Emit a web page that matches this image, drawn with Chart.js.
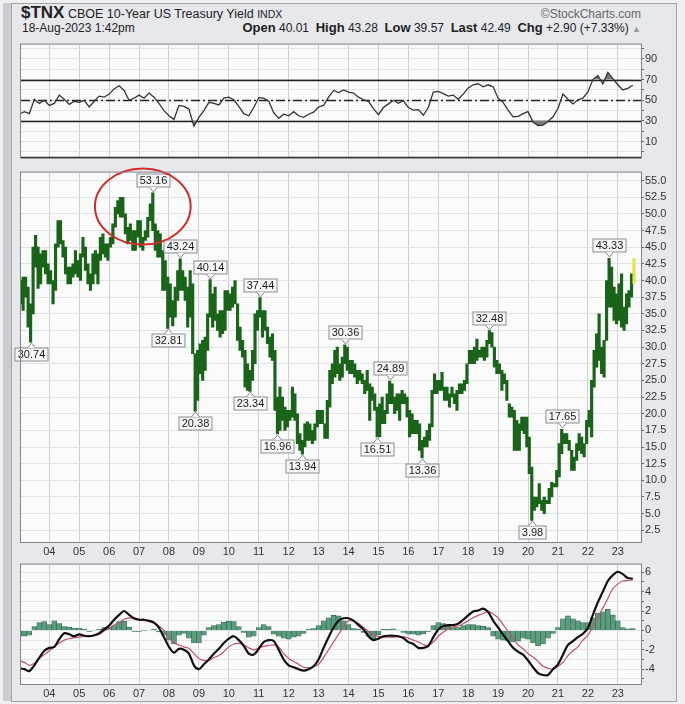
<!DOCTYPE html>
<html>
<head>
<meta charset="utf-8">
<script src="https://cdn.jsdelivr.net/npm/chart.js@4.4.0/dist/chart.umd.min.js"></script>
<style>
  body { margin: 0; width: 685px; height: 704px; background: #eef0f2; font-family: "Liberation Sans", Arial, sans-serif; position: relative; overflow: hidden; }
  #strip { position: absolute; left: 3px; top: 3px; width: 8px; height: 698px; background: #c9cdd2; }
  #frame { position: absolute; left: 11px; top: 3px; width: 664px; height: 697px; background: #e6e8eb; border: 1px solid #9ea3a9; }
  .pane { position: absolute; left: 0; }
  .txt { position: absolute; color: #222; white-space: nowrap; }
</style>
</head>
<body>
<div id="strip"></div>
<div id="frame"></div>
<div class="txt" style="left:21px;top:3px;font-size:12.5px"><b style="font-size:17px">$TNX</b> CBOE 10-Year US Treasury Yield <span style="font-size:10.5px">INDX</span></div>
<div class="txt" style="right:44px;top:7px;font-size:12px;color:#666">&copy;StockCharts.com</div>
<div class="txt" style="left:22px;top:21px;font-size:12px">18-Aug-2023 1:42pm</div>
<div class="txt" style="right:44px;top:20px;font-size:12px"><b style="font-size:13px">Open</b> 40.01 &nbsp;<b style="font-size:13px">High</b> 43.28 &nbsp;<b style="font-size:13px">Low</b> 39.57 &nbsp;<b style="font-size:13px">Last</b> 42.49 &nbsp;<b style="font-size:13px">Chg</b> +2.90 (+7.33%) <span style="color:#999;font-size:9px">&#9650;</span></div>

<div class="pane" style="top:37px"><canvas id="rsiChart" width="685" height="128"></canvas></div>
<div class="pane" style="top:165px"><canvas id="priceChart" width="685" height="392"></canvas></div>
<div class="pane" style="top:557px"><canvas id="macdChart" width="685" height="142"></canvas></div>

<script>
// x axis = months since Jan 2003
const yearLabels = ["04", "05", "06", "07", "08", "09", "10", "11", "12", "13", "14", "15", "16", "17", "18", "19", "20", "21", "22", "23"];

// monthly ranges, Feb 2003 .. Aug 2023 (yield x 10)
const priceLows = [
  36.5, 35.5, 37.5, 33.0, 30.74, 35.0, 42.0, 38.8, 39.5, 42.0, 41.0,
  39.5, 39.5, 36.5, 38.5, 45.0, 45.5, 43.5, 41.0, 39.5, 39.5, 40.5, 41.0,
  40.5, 40.0, 43.5, 41.5, 39.5, 38.5, 39.5, 41.0, 39.5, 43.0, 44.0, 43.5,
  43.0, 45.0, 45.5, 48.0, 50.0, 49.5, 49.5, 47.0, 45.5, 46.0, 44.5, 44.5,
  46.5, 45.0, 44.5, 46.0, 46.5, 49.0, 47.5, 44.5, 43.5, 43.5, 38.5, 38.5,
  32.81, 34.5, 33.2, 34.5, 37.0, 38.5, 38.5, 37.0, 33.0, 34.5, 29.0, 20.38,
  22.0, 26.0, 25.0, 26.5, 29.5, 34.5, 33.0, 34.0, 32.5, 31.5, 32.0, 32.5,
  35.5, 35.5, 36.0, 36.5, 31.0, 29.5, 28.5, 24.0, 23.5, 23.34, 25.0, 27.5,
  32.5, 34.5, 31.5, 32.5, 30.5, 28.5, 28.0, 20.5, 16.96, 17.5, 19.0, 17.5,
  18.0, 19.0, 19.5, 19.0, 15.5, 14.5, 13.94, 15.0, 16.0, 16.0, 15.5, 16.0,
  18.0, 18.5, 18.5, 16.3, 16.3, 21.0, 24.5, 25.5, 26.0, 25.0, 25.5, 27.5,
  26.5, 26.0, 26.0, 25.5, 24.5, 25.0, 24.5, 23.0, 23.5, 19.0, 22.0, 20.5,
  16.51, 16.5, 18.5, 18.5, 20.0, 21.5, 21.5, 20.0, 20.5, 19.0, 21.5, 21.5,
  19.5, 16.5, 17.0, 17.0, 17.0, 14.5, 13.36, 15.0, 15.0, 16.0, 18.0, 23.0,
  23.0, 23.5, 23.5, 22.0, 22.0, 21.0, 22.5, 21.5, 20.5, 23.0, 23.0, 23.5,
  24.5, 27.5, 27.5, 27.5, 28.0, 28.5, 28.5, 28.0, 28.5, 30.5, 30.0, 27.0,
  26.0, 26.0, 23.5, 24.5, 22.0, 19.5, 19.5, 14.5, 14.5, 14.5, 17.5, 17.0,
  15.0, 11.0, 3.98, 5.5, 6.0, 6.5, 5.5, 5.0, 6.5, 6.5, 7.5, 9.0,
  9.0, 10.5, 14.0, 15.5, 15.5, 14.5, 11.5, 11.5, 13.0, 14.5, 14.0, 13.5,
  15.5, 18.0, 16.5, 24.0, 27.0, 28.0, 26.0, 25.5, 31.0, 36.0, 36.0, 34.0,
  33.5, 34.0, 33.0, 32.5, 33.5, 36.0, 37.5, 39.57,
];
const priceHighs = [
  40.0, 40.5, 40.5, 39.0, 36.5, 45.0, 46.8, 45.0, 44.0, 44.5, 44.5,
  42.5, 41.5, 40.0, 45.5, 49.0, 49.0, 46.0, 45.0, 42.0, 42.0, 42.5, 44.5,
  43.0, 44.0, 46.5, 45.0, 42.5, 41.0, 44.0, 44.5, 44.0, 46.5, 47.0, 45.5,
  45.5, 46.5, 48.5, 51.0, 52.0, 52.5, 52.5, 50.0, 48.0, 48.5, 47.5, 47.5,
  49.0, 49.0, 46.5, 47.5, 49.5, 51.5, 53.16, 48.5, 47.5, 47.0, 44.5, 43.0,
  40.5, 39.5, 37.0, 39.0, 41.5, 43.24, 41.5, 40.5, 39.0, 41.5, 39.5, 29.0,
  29.5, 30.5, 31.0, 31.5, 35.0, 40.14, 38.0, 39.0, 35.0, 35.5, 35.5, 38.5,
  38.5, 38.0, 39.0, 40.0, 36.5, 33.0, 31.0, 29.5, 27.5, 26.5, 29.5, 35.0,
  35.5, 37.44, 35.5, 35.5, 33.0, 31.5, 32.0, 29.5, 22.5, 24.0, 22.5, 21.0,
  20.5, 20.5, 24.0, 23.0, 20.0, 17.0, 16.0, 18.5, 18.8, 18.5, 17.5, 18.5,
  20.5, 20.5, 20.5, 18.5, 22.0, 26.5, 27.5, 29.5, 30.0, 27.5, 28.5, 30.36,
  30.0, 28.0, 28.0, 27.5, 26.5, 26.5, 26.0, 25.0, 26.5, 24.5, 24.0, 23.0,
  21.0, 21.5, 22.5, 20.5, 23.0, 24.89, 24.5, 22.5, 23.0, 23.0, 23.5, 23.0,
  22.5, 20.5, 20.0, 19.0, 19.0, 18.5, 16.0, 16.5, 17.5, 18.5, 23.5, 26.0,
  25.0, 25.0, 26.2, 24.0, 24.0, 23.0, 24.0, 23.0, 23.5, 24.5, 24.5, 25.0,
  27.5, 29.5, 29.5, 30.0, 31.2, 29.5, 30.0, 30.0, 31.0, 32.48, 32.2, 30.0,
  28.0, 27.5, 26.5, 26.0, 25.0, 21.5, 21.0, 20.5, 19.0, 18.5, 19.5, 19.5,
  19.5, 16.5, 12.0, 7.5, 7.5, 9.5, 7.0, 7.5, 7.0, 8.8, 9.7, 9.5,
  11.5, 15.5, 17.65, 17.0, 17.0, 16.0, 14.5, 13.5, 15.5, 17.0, 16.5, 15.5,
  19.0, 20.5, 25.0, 29.5, 32.0, 35.0, 30.0, 31.0, 40.0, 43.33, 42.0, 39.0,
  38.0, 39.5, 41.0, 36.0, 38.0, 38.5, 41.0, 43.28,
];

// labelled highs and lows: index into the price arrays
const markIndex = [4, 53, 59, 64, 70, 76, 92, 96, 103, 113, 130, 143, 148, 161, 188, 205, 217, 236];
const markValue = [30.74, 53.16, 32.81, 43.24, 20.38, 40.14, 23.34, 37.44, 16.96, 13.94, 30.36, 16.51, 24.89, 13.36, 32.48, 3.98, 17.65, 43.33];
const markHigh = [false, true, false, true, false, true, false, true, false, false, true, false, true, false, true, false, true, true];

// indicators sampled every 2 months from Jan 2003
const rsiValues = [
  36.5, 39, 37, 51, 47, 50, 45, 47, 55, 51, 46, 49, 48, 50, 43.5, 49, 54, 53, 56, 61, 64, 59.5, 50, 52, 55,
  52, 57, 53, 47, 40, 35, 31.5, 45, 44, 41.5, 25, 33.5, 40, 48, 47, 45.5, 52, 53, 50.5, 44, 37, 35, 43, 52.5,
  52, 49, 38, 32.5, 36.5, 35, 39, 35, 33.5, 36.5, 38.5, 43.5, 45, 53, 59.5, 57.5, 60, 58, 57, 53, 50.5, 49,
  42, 36, 43, 46.5, 50, 47, 49.5, 43, 40.5, 41, 35.5, 43, 58, 58.5, 56.5, 54, 55, 51, 56, 62, 65, 66, 63, 65,
  63, 52, 48, 40.5, 34, 34.5, 37, 39, 29, 25.5, 26, 29.5, 34, 42, 56, 51, 46.5, 50.5, 52, 58, 70, 74, 66, 77,
  71, 65, 60, 61.5, 64.5,
];
const macdLine = [
  -3.9, -4.0, -4.2, -3.6, -2.8, -2.1, -1.8, -1.7, -0.9, -0.3, -0.4, -0.6, -0.4, -0.55, -0.6, -0.5, -0.3, 0.1,
  0.5, 1.1, 1.6, 2.0, 1.6, 1.25, 1.1, 1.1, 1.0, 0.8, 0.25, -0.7, -1.7, -2.3, -1.9, -2.0, -2.4, -3.6, -4.0,
  -3.5, -3.0, -2.4, -1.9, -1.3, -0.85, -0.6, -1.0, -1.6, -2.4, -2.5, -1.9, -1.2, -1.0, -1.1, -2.0, -3.0,
  -3.6, -3.8, -4.0, -4.15, -4.0, -3.7, -3.0, -1.8, -0.7, 0.3, 1.0, 1.25, 1.25, 1.0, 0.55, 0.1, -0.6, -1.0,
  -0.85, -0.6, -0.55, -0.55, -0.6, -0.8, -1.2, -1.4, -1.8, -1.8, -1.6, -0.7, 0.1, 0.45, 0.55, 0.55, 0.7, 1.1,
  1.55, 1.95, 2.05, 2.25, 1.9, 1.0, 0.3, -0.45, -1.1, -1.8, -2.2, -2.5, -3.1, -3.8, -4.4, -4.6, -4.6, -4.0,
  -3.5, -2.5, -1.5, -1.1, -0.7, -0.35, 0.25, 1.6, 2.9, 4.0, 5.1, 5.7, 6.05, 5.8, 5.4, 5.35,
];
const macdSignal = [
  -3.1, -3.3, -3.6, -3.4, -2.9, -2.5, -2.1, -1.7, -1.3, -1.0, -0.85, -0.75, -0.7, -0.6, -0.55, -0.55, -0.4,
  -0.05, 0.2, 0.55, 0.8, 1.15, 1.3, 1.2, 1.15, 1.0, 0.9, 0.75, 0.45, 0.0, -0.7, -1.3, -1.5, -1.7, -1.85, -2.4,
  -2.9, -3.1, -3.1, -2.8, -2.6, -2.2, -1.7, -1.4, -1.35, -1.5, -1.8, -2.0, -1.8, -1.65, -1.55, -1.5, -1.7,
  -2.4, -2.9, -3.2, -3.5, -3.8, -3.85, -3.75, -3.5, -2.8, -2.0, -1.2, -0.4, 0.4, 1.0, 0.95, 0.7, 0.3, -0.1,
  -0.45, -0.65, -0.7, -0.7, -0.7, -0.65, -0.65, -0.8, -1.0, -1.2, -1.45, -1.55, -1.2, -0.6, -0.2, 0.2, 0.35,
  0.45, 0.7, 1.0, 1.3, 1.55, 1.75, 1.95, 1.7, 1.3, 0.6, -0.1, -0.8, -1.5, -1.9, -2.4, -2.75, -3.2, -3.7, -3.9,
  -4.0, -3.7, -3.3, -2.6, -2.1, -1.7, -1.0, -0.5, 0.4, 1.4, 2.3, 3.3, 4.3, 4.8, 5.1, 5.15, 5.2,
];
const macdHist = [
  -0.6, -0.6, -0.5, 0.4, 0.8, 0.9, 0.6, 1.0, 0.7, 0.4, 0.35, 0.25, 0.25, 0.1, -0.1, 0.05, 0.1, 0.3, 0.35, 0.5,
  0.9, 0.95, 0.35, -0.1, -0.1, -0.05, 0.0, 0.1, -0.15, -0.5, -1.0, -1.4, -0.5, -0.3, -0.8, -1.3, -1.3, -0.5,
  0.3, 0.5, 0.6, 0.85, 0.95, 0.9, 0.4, -0.2, -0.7, -0.6, 0.3, 0.6, 0.4, -0.4, -0.6, -0.8, -0.9, -0.7, -0.6,
  -0.3, 0.1, 0.2, 0.5, 1.0, 1.3, 1.55, 1.5, 1.0, 0.6, 0.2, 0.1, -0.2, -0.6, -0.9, -0.45, 0.1, 0.1, 0.15, 0.05,
  -0.2, -0.4, -0.4, -0.5, -0.35, -0.1, 0.5, 0.8, 0.7, 0.45, 0.3, 0.3, 0.5, 0.6, 0.6, 0.5, 0.45, 0.3, -0.6,
  -0.9, -1.0, -1.1, -1.2, -1.1, -0.8, -0.9, -1.3, -1.6, -1.4, -0.8, -0.3, 0.3, 1.2, 1.5, 1.2, 1.0, 0.8, 0.8,
  1.3, 1.8, 1.9, 2.2, 1.6, 1.0, 0.3, 0.15, 0.2,
];

const rsiLabels = [10, 30, 50, 70, 90];
const priceLabels = [2.5, 5, 7.5, 10, 12.5, 15, 17.5, 20, 22.5, 25, 27.5, 30, 32.5, 35, 37.5, 40, 42.5, 45, 47.5, 50, 52.5, 55];
const macdLabels = [-4, -2, 0, 2, 4, 6];

const xMin = 0.65;
const xMax = 249.3;

function xAxis(showLabels) {
  return {
    type: 'linear',
    min: xMin,
    max: xMax,
    offset: false,
    afterBuildTicks: (s) => { s.ticks = yearLabels.map((l, i) => ({ value: (i + 1) * 12 })); },
    afterFit: (s) => { s.height = showLabels ? 15 : 0; },
    grid: { color: '#cdd0d4', drawTicks: false, offset: false },
    border: { display: false },
    ticks: {
      display: showLabels,
      padding: 3,
      maxRotation: 0,
      autoSkip: false,
      color: '#333',
      font: { family: 'Liberation Sans', size: 11 },
      callback: (v) => yearLabels[Math.round(v / 12) - 1],
    },
  };
}

function yAxis(min, max, gridValues, labels, fmt) {
  return {
    position: 'right',
    min: min,
    max: max,
    afterBuildTicks: (s) => { s.ticks = gridValues.map(v => ({ value: v })); },
    afterFit: (s) => { s.width = 35; },
    grid: { color: '#e1e3e6', tickLength: 3, tickColor: '#666' },
    border: { display: false },
    ticks: {
      padding: 1,
      autoSkip: false,
      color: '#333',
      font: { family: 'Liberation Sans', size: 11 },
      callback: (v) => labels.includes(v) ? fmt(v) : '',
    },
  };
}

const panelPlugin = {
  id: 'panel',
  beforeDraw(chart) {
    const a = chart.chartArea;
    chart.ctx.save();
    chart.ctx.fillStyle = '#fbfbfc';
    chart.ctx.fillRect(a.left, a.top, a.right - a.left, a.bottom - a.top);
    chart.ctx.restore();
  },
  afterDraw(chart) {
    const a = chart.chartArea;
    chart.ctx.save();
    chart.ctx.strokeStyle = '#80848a';
    chart.ctx.lineWidth = 1;
    chart.ctx.strokeRect(a.left - 0.5, a.top - 0.5, a.right - a.left + 1, a.bottom - a.top + 1);
    chart.ctx.restore();
  },
};

const padding = { left: 21, right: 9, top: 0, bottom: 0 };

// RSI panel
const rsiLevels = {
  id: 'rsiLevels',
  beforeDatasetsDraw(chart) {
    const c = chart.ctx, a = chart.chartArea, y = chart.scales.y;
    c.save();
    c.strokeStyle = '#222';
    c.lineWidth = 1.3;
    [70, 30].forEach(v => {
      const py = Math.round(y.getPixelForValue(v)) + 0.5;
      c.beginPath(); c.moveTo(a.left, py); c.lineTo(a.right, py); c.stroke();
    });
    c.setLineDash([9, 3, 2, 3]);
    const py = Math.round(y.getPixelForValue(50)) + 0.5;
    c.beginPath(); c.moveTo(a.left, py); c.lineTo(a.right, py); c.stroke();
    c.restore();
  },
  afterDraw(chart) {
    const c = chart.ctx, a = chart.chartArea;
    c.save();
    c.strokeStyle = '#333';
    c.lineWidth = 1.5;
    c.beginPath(); c.moveTo(a.left, a.bottom); c.lineTo(a.right, a.bottom); c.stroke();
    c.restore();
  },
};

const rsiPoints = rsiValues.map((v, i) => ({ x: i * 2, y: v }));
const rsiGrid = [0, 10, 20, 30, 40, 50, 60, 70, 80, 90, 100];

let rtx = document.getElementById('rsiChart').getContext('2d');
let rsiChart = new Chart(rtx, {
  type: 'line',
  data: {
    datasets: [{
      data: rsiPoints,
      borderColor: '#333',
      borderWidth: 1.3,
      pointRadius: 0,
      tension: 0,
      fill: { target: { value: 30 }, above: 'rgba(0,0,0,0)', below: '#7a7a7a' },
    }, {
      data: rsiPoints,
      borderWidth: 0,
      pointRadius: 0,
      tension: 0,
      fill: { target: { value: 70 }, above: '#7a7a7a', below: 'rgba(0,0,0,0)' },
    }]
  },
  options: {
    responsive: false,
    animation: false,
    layout: { padding: padding },
    plugins: { legend: { display: false }, tooltip: { enabled: false } },
    scales: {
      x: xAxis(false),
      y: yAxis(-5.3, 103.9, rsiGrid, rsiLabels, v => String(v)),
    }
  },
  plugins: [panelPlugin, rsiLevels],
});

// price panel
const priceBars = priceLows.map((lo, k) => ({ x: k + 0.5, y: [lo, priceHighs[k]] }));

const markPlugin = {
  id: 'marks',
  afterDatasetsDraw(chart) {
    const c = chart.ctx, xs = chart.scales.x, ys = chart.scales.y;
    c.save();
    c.font = '11px "Liberation Sans", Arial, sans-serif';
    c.textAlign = 'center';
    c.textBaseline = 'middle';
    markIndex.forEach((k, i) => {
      const px = Math.round(xs.getPixelForValue(k + 0.5)) + 0.5;
      const py = Math.round(ys.getPixelForValue(markValue[i]));
      const txt = markValue[i].toFixed(2);
      const w = Math.ceil(c.measureText(txt).width) + 5;
      const h = 13;
      const dir = markHigh[i] ? -1 : 1;
      const tip = py + dir * 1;
      const base = py + dir * 6;
      const top = markHigh[i] ? base - h : base;
      c.fillStyle = '#f7f7f7';
      c.fillRect(px - w / 2, top, w, h);
      c.strokeStyle = '#8a8d92';
      c.lineWidth = 1;
      c.strokeRect(px - w / 2, top, w, h);
      c.beginPath();
      c.moveTo(px - 4, base); c.lineTo(px, tip); c.lineTo(px + 4, base);
      c.fillStyle = '#f7f7f7';
      c.fill();
      c.stroke();
      c.fillStyle = '#1a1a1a';
      c.fillText(txt, px, top + h / 2 + 0.5);
    });
    // circle around the 2006-07 top
    const cx = xs.getPixelForValue(49.5), cy = ys.getPixelForValue(51.1);
    const rx = Math.abs(xs.getPixelForValue(49.5 + 19.2) - cx);
    const ry = Math.abs(ys.getPixelForValue(51.1 + 5.7) - cy);
    c.strokeStyle = '#d42a2a';
    c.lineWidth = 2;
    c.beginPath();
    c.ellipse(cx, cy, rx, ry, 0, 0, Math.PI * 2);
    c.stroke();
    c.restore();
  },
};

const priceGrid = priceLabels.slice();

let ptx = document.getElementById('priceChart').getContext('2d');
let priceChart = new Chart(ptx, {
  type: 'bar',
  data: {
    datasets: [{
      data: priceBars,
      backgroundColor: (ctx) => ctx.dataIndex === priceLows.length - 1 ? '#e4e448' : '#196419',
      borderWidth: 0,
      barPercentage: 1,
      categoryPercentage: 1,
    }]
  },
  options: {
    responsive: false,
    animation: false,
    layout: { padding: padding },
    plugins: { legend: { display: false }, tooltip: { enabled: false } },
    scales: {
      x: xAxis(true),
      y: yAxis(0.74, 56.2, priceGrid, priceLabels, v => v.toFixed(1)),
    }
  },
  plugins: [panelPlugin, markPlugin],
});

// MACD panel
const macdPoints = macdLine.map((v, i) => ({ x: i * 2, y: v }));
const signalPoints = macdSignal.map((v, i) => ({ x: i * 2, y: v }));
const histPoints = macdHist.map((v, i) => ({ x: i * 2, y: v }));
const macdGrid = [-5, -4, -3, -2, -1, 0, 1, 2, 3, 4, 5, 6];

let mtx = document.getElementById('macdChart').getContext('2d');
let macdChart = new Chart(mtx, {
  type: 'bar',
  data: {
    datasets: [{
      type: 'line',
      data: macdPoints,
      borderColor: '#111',
      borderWidth: 2.2,
      pointRadius: 0,
      tension: 0.3,
      order: 0,
    }, {
      type: 'line',
      data: signalPoints,
      borderColor: '#c2506e',
      borderWidth: 1.2,
      pointRadius: 0,
      tension: 0.3,
      order: 1,
    }, {
      type: 'bar',
      data: histPoints,
      backgroundColor: '#5c9c7e',
      borderColor: '#2f6a50',
      borderWidth: 0.7,
      barPercentage: 1,
      categoryPercentage: 1,
      order: 2,
    }]
  },
  options: {
    responsive: false,
    animation: false,
    layout: { padding: padding },
    plugins: { legend: { display: false }, tooltip: { enabled: false } },
    scales: {
      x: xAxis(true),
      y: yAxis(-5.53, 6.79, macdGrid, macdLabels, v => String(v)),
    }
  },
  plugins: [panelPlugin],
});
</script>
</body>
</html>
